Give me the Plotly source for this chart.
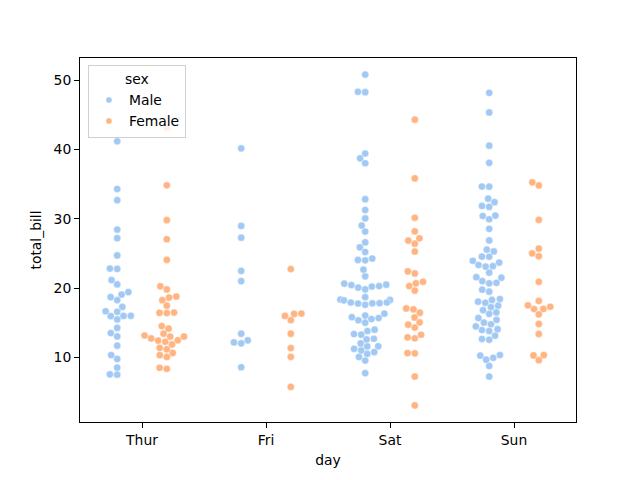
import numpy as np
import plotly.graph_objects as go

days = ["Thur", "Fri", "Sat", "Sun"]
sexes = ["Male", "Female"]
colors = {"Male": "#a1c9f4", "Female": "#ffb482"}

thur_male = [27.20, 22.76, 17.29, 19.44, 16.66, 32.68, 15.98, 13.03, 18.28, 24.71, 21.16,
             11.69, 14.26, 15.95, 8.52, 22.82, 19.08, 16.00, 34.30, 41.19, 9.78, 7.51,
             28.44, 15.48, 16.58, 7.56, 10.34, 13.51, 18.71, 20.53]
thur_female = [10.07, 34.83, 10.65, 12.43, 24.08, 13.42, 12.48, 29.80, 14.52, 11.38, 20.27,
               11.17, 12.26, 18.26, 8.51, 10.33, 14.15, 13.16, 17.47, 27.05, 16.43, 8.35,
               18.64, 11.87, 19.81, 43.11, 13.00, 12.74, 13.00, 16.40, 16.47, 18.78]
fri_male = [28.97, 22.49, 40.17, 27.28, 12.03, 21.01, 12.46, 12.16, 8.58, 13.42]
fri_female = [5.75, 16.32, 22.75, 11.35, 15.38, 13.42, 15.98, 16.27, 10.09]
sat_male = [20.65, 17.92, 39.42, 19.82, 17.81, 13.37, 12.69, 21.70, 9.55, 18.35, 17.78,
            24.06, 16.31, 18.69, 31.27, 16.04, 38.01, 11.24, 48.27, 20.29, 13.81, 11.02,
            18.29, 17.59, 20.08, 20.23, 15.01, 12.02, 10.51, 17.92, 15.36, 20.49, 25.21,
            18.24, 14.00, 50.81, 15.81, 26.59, 38.73, 24.27, 30.06, 25.89, 48.33, 28.15,
            11.59, 7.74, 20.45, 13.28, 24.01, 15.69, 11.61, 10.77, 15.53, 10.07, 12.60,
            32.83, 29.03, 22.67, 17.82]
sat_female = [20.29, 15.77, 19.65, 15.06, 20.69, 16.93, 26.41, 16.45, 3.07, 17.07, 26.86,
              25.28, 14.73, 44.30, 22.42, 20.92, 14.31, 7.25, 10.59, 10.63, 12.76, 13.27,
              28.17, 12.90, 30.14, 22.12, 35.83, 27.18]
sun_male = [10.34, 21.01, 23.68, 25.29, 8.77, 26.88, 15.04, 14.78, 10.27, 15.42, 18.43,
            21.58, 16.29, 17.46, 13.94, 9.68, 30.40, 18.29, 22.23, 32.40, 28.55, 18.04,
            12.54, 9.94, 25.56, 19.49, 38.07, 23.95, 29.93, 14.07, 13.13, 17.26, 24.55,
            19.77, 48.17, 16.49, 21.50, 12.66, 13.81, 24.52, 20.76, 31.71, 7.25, 31.85,
            16.82, 32.90, 17.89, 14.48, 34.63, 34.65, 23.33, 45.35, 23.17, 40.55, 20.69,
            30.46, 23.10, 15.69]
sun_female = [16.99, 24.59, 35.26, 14.83, 10.33, 16.97, 10.29, 34.81, 25.71, 17.31, 29.85,
              25.00, 13.39, 16.21, 17.51, 9.60, 20.90, 18.15]

groups = {
    ("Thur", "Male"): thur_male, ("Thur", "Female"): thur_female,
    ("Fri", "Male"): fri_male, ("Fri", "Female"): fri_female,
    ("Sat", "Male"): sat_male, ("Sat", "Female"): sat_female,
    ("Sun", "Male"): sun_male, ("Sun", "Female"): sun_female,
}

# ---- layout geometry (matplotlib-like default axes in 640x480; page body has 8px margin) ----
W, H = 632, 472
L, R, T, B = 72, 64, 49.6, 57.6
pw, ph = W - L - R, H - T - B
allv = np.concatenate([np.array(v) for v in groups.values()])
span = allv.max() - allv.min()
ylo, yhi = allv.min() - 0.05 * span, allv.max() + 0.05 * span
xlo, xhi = -0.5, len(days) - 0.5
xs = pw / (xhi - xlo)
ys = ph / (yhi - ylo)

dpi = 100
radius = (np.sqrt(25) + 0.0) / 2 * (dpi / 72)
dodge = 0.2
half_width = 0.2


def beeswarm(orig):
    midline = orig[0, 0]
    swarm = [orig[0]]
    for p in orig[1:]:
        x_i, y_i, r_i = p
        neigh = []
        for q in reversed(swarm):
            if (y_i - q[1]) < (r_i + q[2]):
                neigh.append(q)
            else:
                break
        cands = [p]
        left_first = True
        for q in neigh:
            dy = y_i - q[1]
            dx = np.sqrt(max((r_i + q[2]) ** 2 - dy ** 2, 0)) * 1.05
            cl = np.array([q[0] - dx, y_i, r_i])
            cr = np.array([q[0] + dx, y_i, r_i])
            cands.extend([cl, cr] if left_first else [cr, cl])
            left_first = not left_first
        cands = np.array(cands)
        cands = cands[np.argsort(np.abs(cands[:, 0] - midline), kind="mergesort")]
        chosen = cands[0]
        if neigh:
            nb = np.array(neigh)
            for c in cands:
                d2 = (nb[:, 0] - c[0]) ** 2 + (nb[:, 1] - c[1]) ** 2
                if np.all(d2 >= (nb[:, 2] + c[2]) ** 2):
                    chosen = c
                    break
        swarm.append(chosen)
    return np.array(swarm)


def swarm_x(values, center):
    v = np.asarray(values, dtype=float)
    px = np.full(len(v), (center - xlo) * xs)
    py = (v - ylo) * ys
    xyr = np.c_[px, py, np.full(len(v), radius)]
    order = np.argsort(xyr[:, 1], kind="mergesort")
    new = np.empty_like(xyr)
    new[order] = beeswarm(xyr[order])
    xd = new[:, 0] / xs + xlo
    xd = np.clip(xd, center - half_width, center + half_width)
    return xd


fig = go.Figure()
for si, s in enumerate(sexes):
    X, Y = [], []
    for di, d in enumerate(days):
        vals = groups[(d, s)]
        c = di + (-dodge if si == 0 else dodge)
        X.extend(swarm_x(vals, c))
        Y.extend(vals)
    fig.add_trace(go.Scatter(
        x=X, y=Y, mode="markers", name=s, showlegend=False,
        marker=dict(color=colors[s], size=7.2, line=dict(color="white", width=0.4)),
    ))
# legend handles (smaller markers, like the matplotlib legend)
for s in sexes:
    fig.add_trace(go.Scatter(
        x=[None], y=[None], mode="markers", name=s,
        marker=dict(color=colors[s], size=6, line=dict(color="white", width=0.3)),
    ))

font = dict(family="DejaVu Sans", size=13.9, color="black")
fig.update_layout(
    width=W, height=H,
    margin=dict(l=L, r=R, t=T, b=B, pad=0),
    paper_bgcolor="white", plot_bgcolor="white",
    font=font,
    showlegend=True,
    legend=dict(
        title=dict(text="sex", side="top center", font=font),
        x=0.016, y=0.98, xanchor="left", yanchor="top",
        bgcolor="rgba(255,255,255,0.8)", bordercolor="#d0d0d0", borderwidth=1,
        font=font, itemsizing="trace", tracegroupgap=0,
    ),
    xaxis=dict(
        range=[xlo, xhi], tickmode="array", tickvals=list(range(len(days))), ticktext=days,
        showline=True, linecolor="black", linewidth=1.1, mirror=True,
        ticks="outside", ticklen=4.9, tickwidth=1.1, tickcolor="black",
        showgrid=False, zeroline=False,
        title=dict(text="day", font=font, standoff=8),
    ),
    yaxis=dict(
        range=[ylo, yhi], tickmode="array", tickvals=[10, 20, 30, 40, 50],
        showline=True, linecolor="black", linewidth=1.1, mirror=True,
        ticks="outside", ticklen=4.9, tickwidth=1.1, tickcolor="black",
        showgrid=False, zeroline=False,
        title=dict(text="total_bill", font=font, standoff=8),
    ),
)
fig.write_html("out.html")
